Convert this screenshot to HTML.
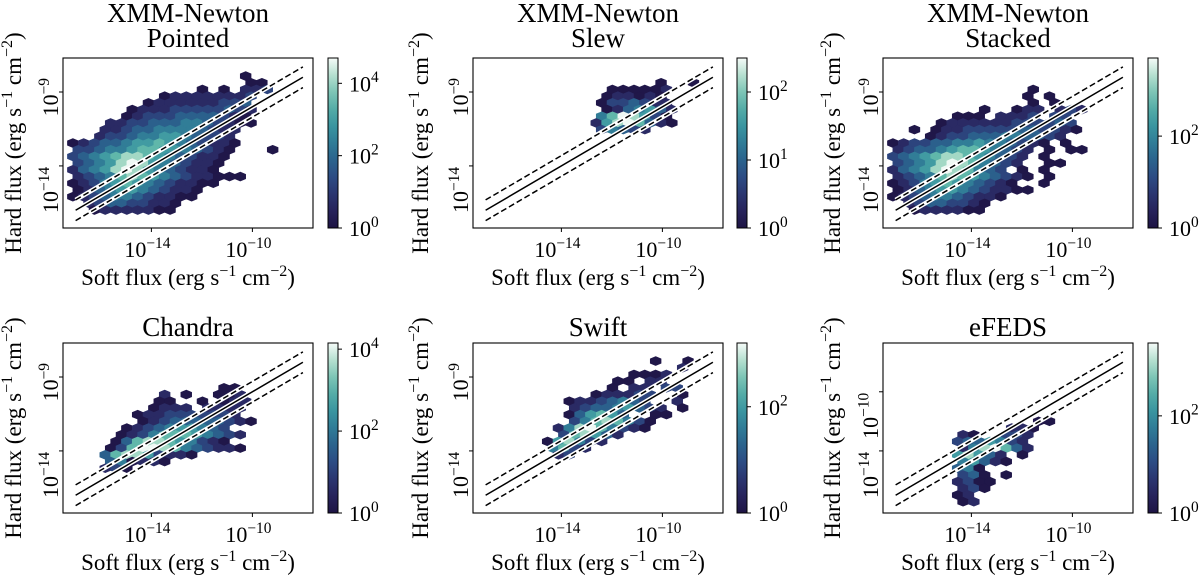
<!DOCTYPE html>
<html><head><meta charset="utf-8"><style>
html,body{margin:0;padding:0;background:#fff;}
svg{display:block;font-family:"Liberation Serif",serif;}
</style></head><body>
<svg id="fig" width="1200" height="580" viewBox="0 0 1200 580" xmlns="http://www.w3.org/2000/svg"></svg>
<script>
// ---- data (hex rows, top to bottom; digit = log-count level 1..9, '.' = empty) ----
const hexPointed = [
"................1","................11","............1.1.223","........122222223",
".......1222222334",".....122233333432",".....123334444321","...22334445543211",
"...2234455554322","..2334556654332","1234456676543221","334556776654321...1",
"345678876543221","34568986543221","24568986543221","2345787654322111",
"12356765432211","124566543221","123455432211",".234433221","..12222211"];
const hexSlew = [
"","................1..1","............111112","...........122121",
"...........1334322","...........1245642","...........5798631","..........26897421",
"...........35432"];
const hexStacked = [
"","",".............1","............1.1",".............1.1","........1..122.232",
"......111.2223.33","....1222222333343","..1.12233333443321","...1233444554432",
"123344556554321.1","2344567765432.1.11","3456788765432.1","345689875432..11",
"24568987543.1.1","2345787654321.1.","123567654321..1","1245665432211",
"12345543221",".23443321","..1222211"];
const hexChandra = [
"","","","","..............11","........2.1..112","........11..1.122",".......1222.2222",
"......1223333332","......12344444321",".....1234566543","....123577765432",
"....14788765321","...1379987543221","...478863221","...451221","...231"];
const hexSwift = [
"................1..1","..................2","..............1112","............11.22",
"............1.22.33","..........122233..1","........12234543..2","........234456432.1",
"........146764..11","........35787531",".......258975321",".......378642",
"......168532","......5732",".......23"];
const hexEfeds = [
"","","","","","","","","",".............11","...........221","......21..332",
"......3446532","......2589742","......68642.1","......56421","......451","......341.1",
"......2311","......231","......12","......12"];
const panelHex = [hexPointed, hexSlew, hexStacked, hexChandra, hexSwift, hexEfeds];
const panelTitles = [["XMM-Newton","Pointed"],["XMM-Newton","Slew"],["XMM-Newton","Stacked"],["Chandra"],["Swift"],["eFEDS"]];
const xTicks = [-14, -10];
const yTicksRow = [[-9,-14],[-9,-14],[-9,-14],[-9,-14],[-9,-14],[-10,-14]];
const cbarMax = [4.7, 2.5, 3.7, 4.15, 3.2, 3.5];
const cbarTicks = [[0,2,4],[0,1,2],[0,2],[0,2,4],[0,2],[0,2]];
const lineX = [-17, -8];
const dashOffset = [0.7, -0.7];
// axis limits (log10)
const xMin = -17.5, xMax = -7.6, yMin = -18.2, yMax = -6.7;
const gridX0 = -17.11, gridDX = 0.4277, gridY0 = -7.92, gridDY = 0.4533;

// ---- layout ----
const lefts = [63, 473, 883], tops = [58, 343], W = 250, H = 170;
const cbarL = [328, 737, 1148], CW = 10;
const ylOff = [-42, -45, -43];
const NS = "http://www.w3.org/2000/svg";
const svg = document.getElementById('fig');
function mk(tag, attrs, parent){const e=document.createElementNS(NS,tag);for(const k in attrs)e.setAttribute(k,attrs[k]);(parent||svg).appendChild(e);return e;}
const stops=[[0,[30,20,68]],[0.15,[43,43,102]],[0.3,[44,76,132]],[0.45,[43,111,146]],[0.6,[58,149,160]],[0.75,[97,184,170]],[0.88,[169,219,200]],[1,[245,251,248]]];
function cmap(t){t=Math.max(0,Math.min(1,t));for(let i=1;i<stops.length;i++){if(t<=stops[i][0]){const a=stops[i-1],b=stops[i];const f=(t-a[0])/(b[0]-a[0]);const c=a[1].map((v,k)=>Math.round(v+(b[1][k]-v)*f));return `rgb(${c[0]},${c[1]},${c[2]})`;}}return 'rgb(245,251,248)';}
function supText(parent, x, y, base, exp, size, anchor, transform, name){
  const t=mk('text',{x:x,y:y,'font-size':size,'text-anchor':anchor||'middle',fill:'#000'},parent);
  if(transform)t.setAttribute('transform',transform);
  
  
  const a=mk('tspan',{},t);a.textContent=base;
  const b=mk('tspan',{dy:-size*0.42,'font-size':size*0.7},t);b.textContent=exp;
  return t;
}
function labelText(parent,x,y,prefix,transform,name){
  const t=mk('text',{x:x,y:y,'font-size':23,'text-anchor':'middle'},parent);
  if(transform)t.setAttribute('transform',transform);
  
  
  const parts=[[prefix+" (erg s",0,23],["−1",-9,16],[" cm",9,23],["−2",-9,16],[")",9,23]];
  parts.forEach(p=>{const s=mk('tspan',{dy:p[1],'font-size':p[2]},t);s.textContent=p[0];});
}
mk('defs',{});
for(let p=0;p<6;p++){
  const col=p%3,row=Math.floor(p/3);
  const L=lefts[col],T=tops[row];
  const g=mk('g',{});
  
  
  const xS=v=>L+(v-xMin)/(xMax-xMin)*W;
  const yS=v=>T+(yMax-v)/(yMax-yMin)*H;
  const clipId='clip'+p;
  const cp=mk('clipPath',{id:clipId},svg.querySelector('defs'));mk('rect',{x:L,y:T,width:W,height:H},cp);
  const hg=mk('g',{'clip-path':`url(#${clipId})`},g);
  
  
  const rows=panelHex[p];
  const hx=(xS(gridX0+gridDX)-xS(gridX0))/2, hy=(yS(gridY0-2*gridDY)-yS(gridY0))/3;
  rows.forEach((r,j)=>{
    for(let i=0;i<r.length;i++){
      const ch=r[i]; if(ch<'1'||ch>'9')continue;
      const lvl=+ch;
      const lx=gridX0+(i+(j%2?0.5:0))*gridDX, ly=gridY0-j*gridDY;
      const cx=xS(lx),cy=yS(ly);
      const pts=[[0,-hy],[hx,-hy/2],[hx,hy/2],[0,hy],[-hx,hy/2],[-hx,-hy/2]].map(q=>(cx+q[0]).toFixed(2)+','+(cy+q[1]).toFixed(2)).join(' ');
      const c=cmap((lvl-1)/8*0.97+0.02);
      const h=mk('polygon',{points:pts,fill:c,stroke:c,'stroke-width':0.6},hg);
      
      
    }
  });
  const lines=[[0,'none'],[dashOffset[0],'6,3'],[dashOffset[1],'6,3']];
  lines.forEach((ln,k)=>{
    const x1=xS(lineX[0]),y1=yS(lineX[0]+ln[0]),x2=xS(lineX[1]),y2=yS(lineX[1]+ln[0]);
    mk('line',{x1,y1,x2,y2,stroke:'#fff','stroke-width':4.5},hg);
    const l=mk('line',{x1,y1,x2,y2,stroke:'#000','stroke-width':1.5,'stroke-dasharray':ln[1]},hg);
    
    
  });
  const fr=mk('rect',{x:L,y:T,width:W,height:H,fill:'none',stroke:'#000','stroke-width':1.1},g);
  
  
  xTicks.forEach(v=>{const x=xS(v);mk('line',{x1:x,y1:T+H,x2:x,y2:T+H+4,stroke:'#000','stroke-width':1},g);
    supText(g,x-4,T+H+29,'10','−'+(-v),22,'middle',null,'x-tick-label');});
  yTicksRow[p].forEach(v=>{const y=yS(v);mk('line',{x1:L-4,y1:y,x2:L,y2:y,stroke:'#000','stroke-width':1},g);
    const len=String(-v).length;const top=y-14+15*(len-1);
    supText(g,L-5,top,'10','−'+(-v),22,'end',`rotate(-90 ${L-5} ${top})`,'y-tick-label');});
  const tl=panelTitles[p];
  tl.forEach((s,k)=>{const yy=row===0?(tl.length===2?22+k*25:46):(336);
    const t=mk('text',{x:L+W/2,y:yy,'font-size':27,'text-anchor':'middle'},g);t.textContent=s;
    });
  labelText(g,L+W/2,T+H+57,'Soft flux',null,'x-axis-title');
  const ylx=L+ylOff[col], ycy=T+H/2;
  labelText(g,ylx,ycy,'Hard flux',`rotate(-90 ${ylx} ${ycy})`,'y-axis-title');
  const CL=cbarL[col];
  const cg=mk('g',{},g);
  const gid='grad'+p;const lg=mk('linearGradient',{id:gid,x1:0,y1:1,x2:0,y2:0},svg.querySelector('defs'));
  for(let s=0;s<=10;s++)mk('stop',{offset:s/10,'stop-color':cmap(s/10)},lg);
  mk('rect',{x:CL,y:T,width:CW,height:H,fill:`url(#${gid})`,stroke:'#000','stroke-width':1},cg);
  const cS=v=>T+H-v/cbarMax[p]*H;
  cbarTicks[p].forEach(v=>{const y=cS(v);mk('line',{x1:CL+CW,y1:y,x2:CL+CW+4,y2:y,stroke:'#000','stroke-width':1},cg);
    supText(cg,CL+CW+11,y+8,'10',String(v),22,'start',null,'colorbar-tick-label');});
}
</script>
</body></html>
